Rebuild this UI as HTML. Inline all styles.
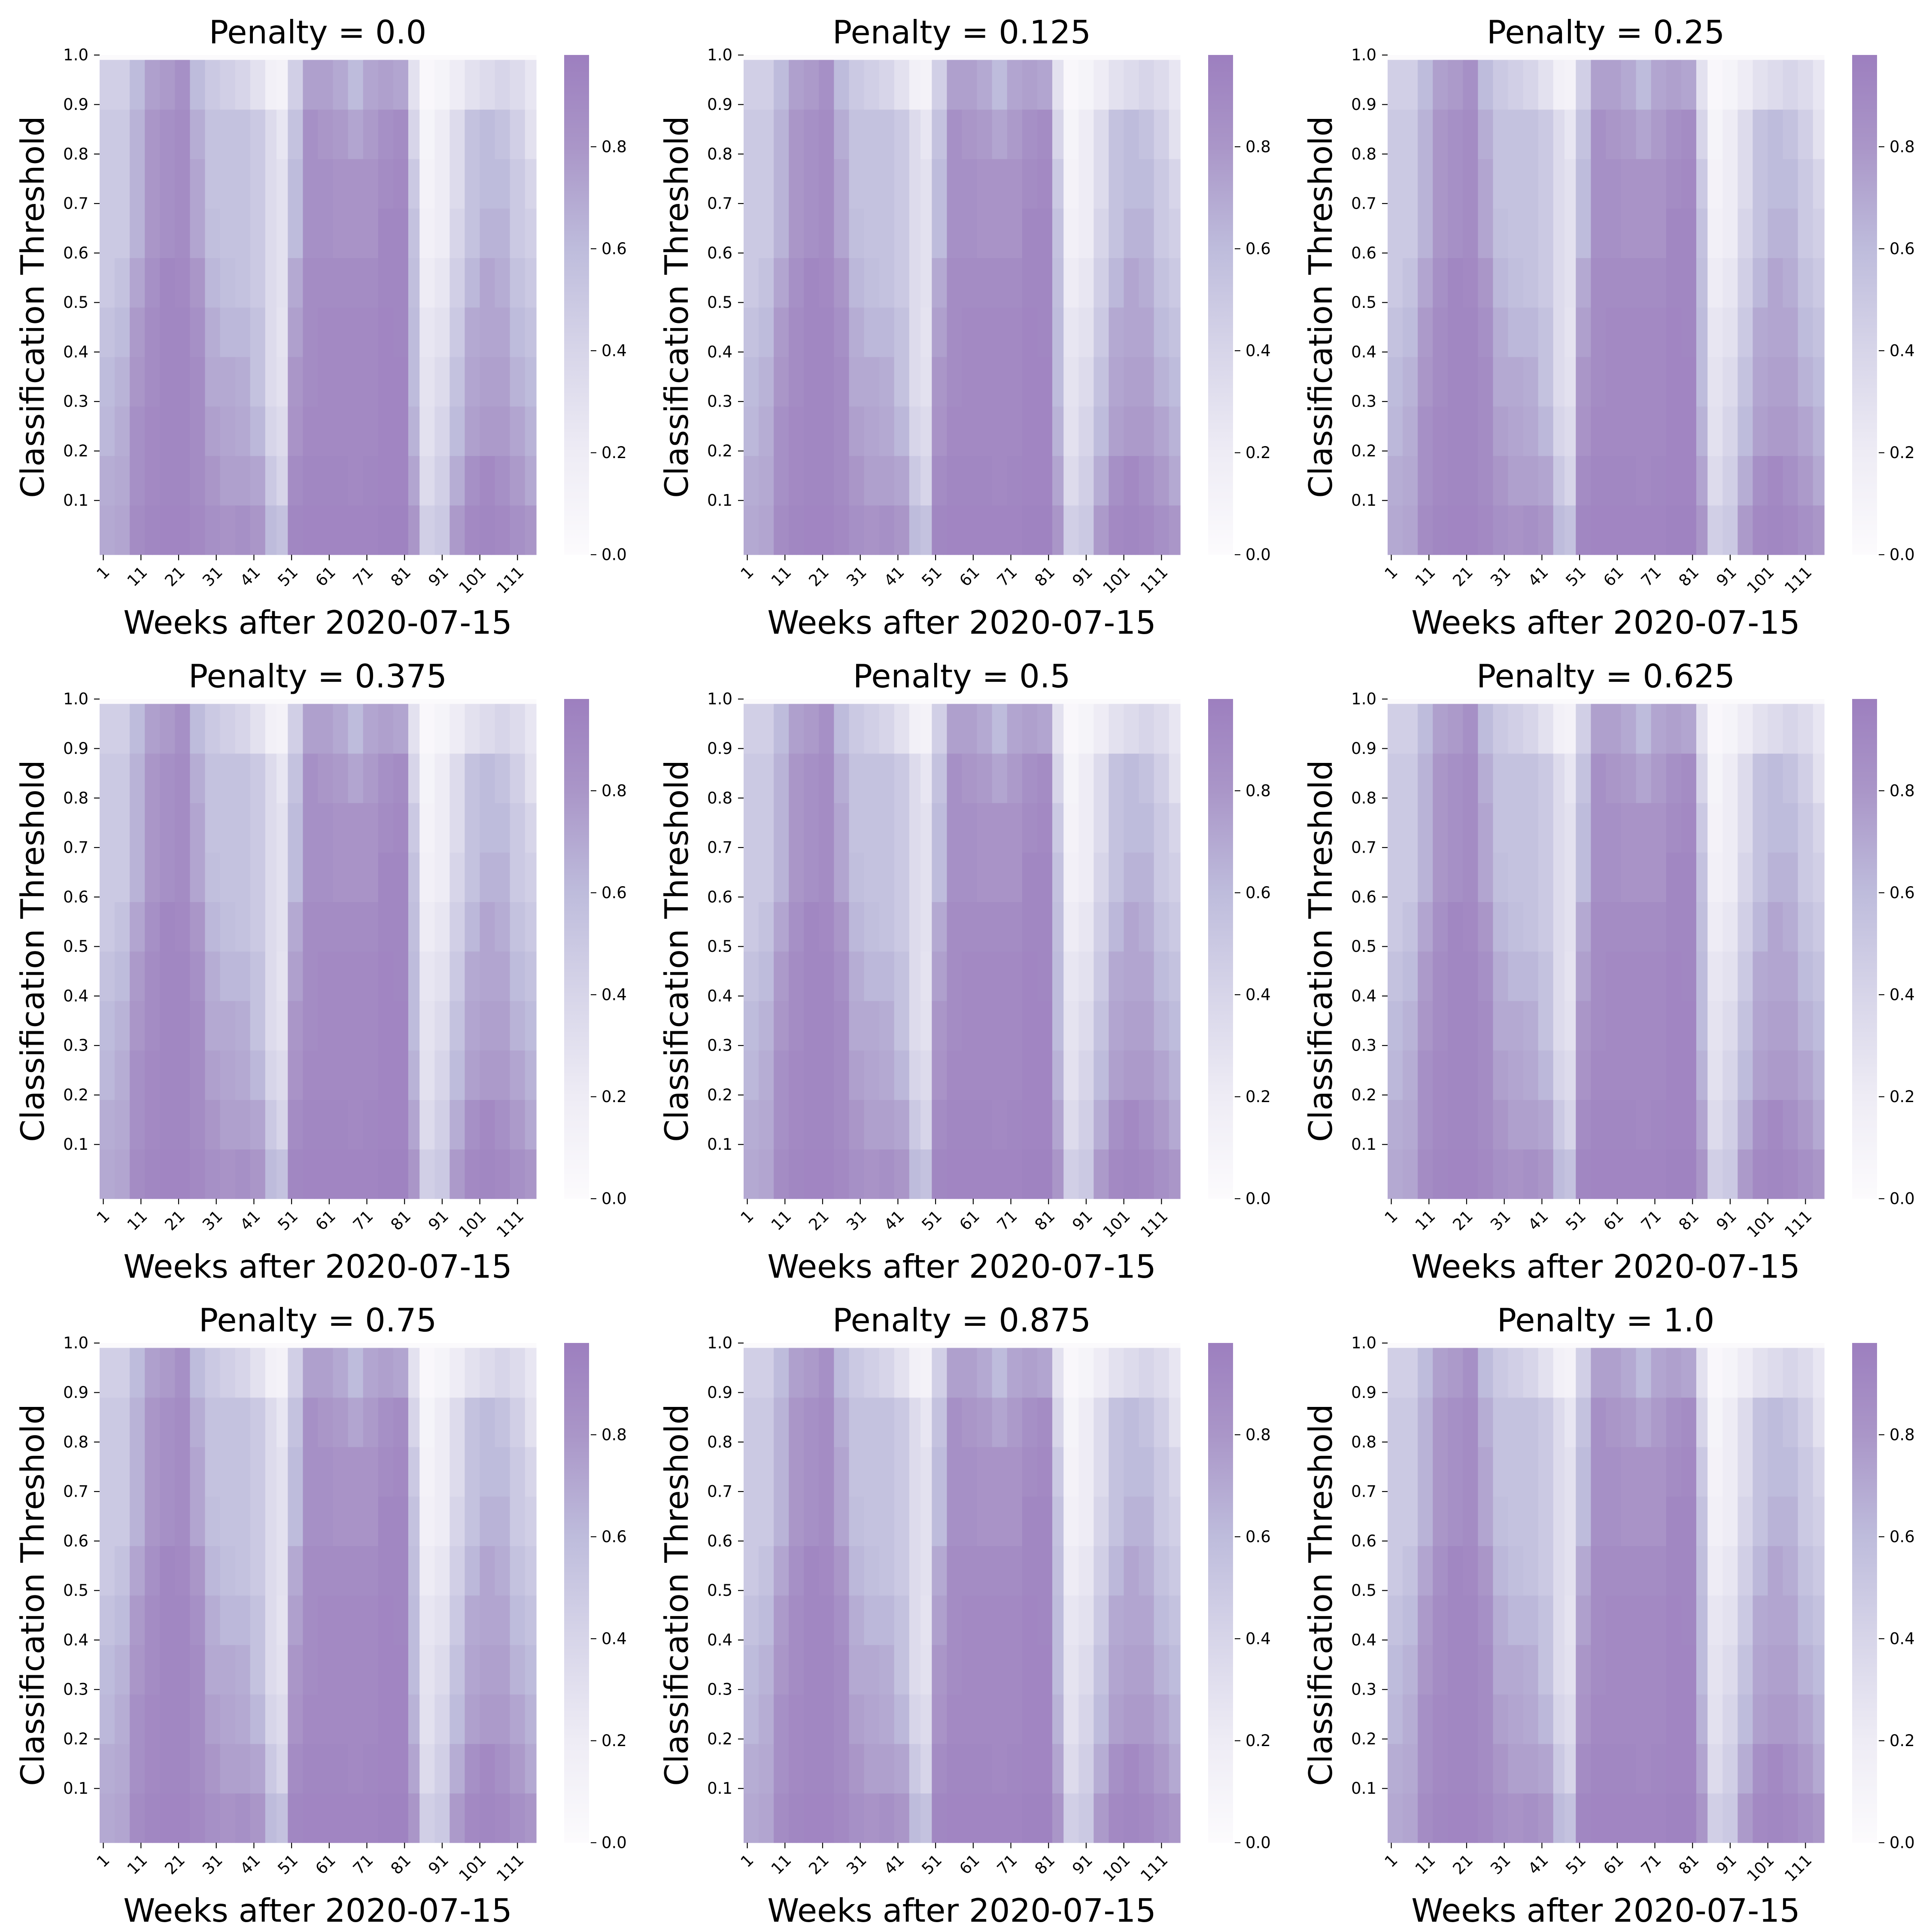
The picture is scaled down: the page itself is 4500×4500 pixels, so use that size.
<!DOCTYPE html>
<html><head><meta charset="utf-8"><style>
html,body{margin:0;padding:0;background:#fff;}
svg{display:block;font-family:"DejaVu Sans","Liberation Sans",sans-serif;}
</style></head><body>
<svg id="fig" width="4500" height="4500" viewBox="0 0 4500 4500">
<defs>
<linearGradient id="cbgrad" x1="0" y1="1" x2="0" y2="0">
<stop offset="0" stop-color="rgb(252,251,253)"/>
<stop offset="0.204" stop-color="rgb(238,236,245)"/>
<stop offset="0.408" stop-color="rgb(215,213,233)"/>
<stop offset="0.612" stop-color="rgb(190,188,220)"/>
<stop offset="0.816" stop-color="rgb(170,150,200)"/>
<stop offset="1" stop-color="rgb(157,127,191)"/>
</linearGradient>
</defs>
</svg>
<script>
// ---- data ----
const penalties = ["0.0","0.125","0.25","0.375","0.5","0.625","0.75","0.875","1.0"];
const weekCount = 116;
const xTickWeeks = [1,11,21,31,41,51,61,71,81,91,101,111];
const yTickLabels = ["0.1","0.2","0.3","0.4","0.5","0.6","0.7","0.8","0.9","1.0"];
const cbTickLabels = ["0.0","0.2","0.4","0.6","0.8"];
// week groups: first week of each group
const groupStart = [1,5,9,13,17,21,25,29,33,37,41,45,48,51,55,59,63,67,71,75,79,83,86,90,94,98,102,106,110,114];
// values per group for threshold bands [0-0.1),[0.1-0.2),...,[0.9-1.0)
const bandValues = [
[.7,.68,.62,.6,.55,.5,.5,.5,.5,.45],
[.72,.7,.68,.65,.6,.55,.5,.5,.5,.45],
[.88,.85,.85,.8,.78,.72,.65,.65,.65,.6],
[.92,.9,.9,.88,.88,.85,.8,.8,.8,.75],
[.93,.92,.92,.92,.92,.92,.85,.85,.85,.78],
[.93,.92,.92,.92,.92,.9,.88,.88,.88,.85],
[.9,.88,.88,.88,.85,.8,.72,.72,.68,.6],
[.85,.8,.75,.7,.68,.62,.58,.55,.55,.5],
[.82,.75,.72,.7,.62,.58,.55,.55,.55,.45],
[.85,.75,.7,.68,.62,.55,.55,.55,.55,.4],
[.8,.72,.62,.55,.55,.5,.5,.5,.5,.3],
[.6,.5,.4,.35,.35,.35,.35,.35,.35,.15],
[.55,.4,.35,.3,.28,.3,.3,.3,.25,.12],
[.92,.88,.82,.8,.75,.7,.6,.6,.55,.45],
[.93,.92,.9,.88,.88,.88,.85,.85,.85,.75],
[.93,.92,.9,.9,.9,.88,.85,.85,.8,.75],
[.93,.92,.9,.9,.9,.88,.82,.82,.78,.7],
[.93,.9,.9,.9,.9,.88,.82,.82,.72,.6],
[.93,.92,.9,.9,.9,.88,.82,.82,.78,.72],
[.95,.93,.93,.93,.93,.92,.92,.88,.85,.75],
[.95,.93,.93,.93,.92,.92,.92,.9,.88,.72],
[.8,.72,.65,.6,.6,.58,.55,.5,.4,.3],
[.45,.35,.3,.28,.25,.2,.15,.12,.1,.05],
[.5,.45,.4,.35,.3,.25,.2,.2,.2,.1],
[.78,.68,.6,.55,.5,.45,.4,.35,.35,.2],
[.9,.85,.75,.72,.7,.62,.55,.55,.55,.3],
[.92,.9,.78,.75,.72,.72,.65,.6,.6,.35],
[.9,.85,.78,.75,.72,.68,.65,.6,.55,.4],
[.85,.78,.72,.65,.6,.55,.5,.5,.45,.35],
[.8,.7,.65,.6,.55,.5,.45,.4,.3,.25]
];
const topRowValue = 0.02; // threshold = 1.0 row
const vmax = 0.98;

// ---- layout ----
const NS = "http://www.w3.org/2000/svg";
const svg = document.getElementById('fig');
const HX0 = 232, HX1 = 1249, HY0 = 128, HY1 = 1292;
const colW = (HX1 - HX0) / weekCount;
const rowH = (HY1 - HY0) / 101;
function xWeekTick(w){ return 240.6 + (w - 1) * 8.77; }
function yThresh(t){ return 1281 - t * 1152.8; }
function cbY(v){ return HY1 - (v / vmax) * (HY1 - HY0); }
const stops = [[0,[252,251,253]],[0.2,[238,236,245]],[0.4,[215,213,233]],[0.6,[190,188,220]],[0.8,[170,150,200]],[0.98,[157,127,191]]];
function color(v){
  v = Math.max(0, Math.min(vmax, v));
  for (let i = 0; i < stops.length - 1; i++){
    const a = stops[i], b = stops[i+1];
    if (v <= b[0]){
      const f = (v - a[0]) / (b[0] - a[0]);
      const c = a[1].map((x, k) => Math.round(x + (b[1][k] - x) * f));
      return `rgb(${c[0]},${c[1]},${c[2]})`;
    }
  }
  return 'rgb(157,127,191)';
}
function groupOf(w){ let g = 0; for (let i = 0; i < groupStart.length; i++) if (w >= groupStart[i]) g = i; return g; }
function mk(tag, attrs, parent){ const e = document.createElementNS(NS, tag); for (const k in attrs) e.setAttribute(k, attrs[k]); (parent || svg).appendChild(e); return e; }

penalties.forEach((p, pi) => {
  const ox = (pi % 3) * 1500, oy = Math.floor(pi / 3) * 1500;
  const g = mk('g', {transform: `translate(${ox},${oy})`});
  
  
  const hm = mk('g', {}, g);
  
  
  for (let w = 1; w <= weekCount; w++){
    const vals = bandValues[groupOf(w)];
    const x = HX0 + (w - 1) * colW;
    const r0 = mk('rect', {x: x, y: HY0, width: colW + 0.6, height: rowH + 0.6, fill: color(topRowValue)}, hm);
    
    
    for (let b = 0; b < 10; b++){
      const yTop = HY1 - (b * 10 + 10) * rowH;
      const r = mk('rect', {x: x, y: yTop, width: colW + 0.6, height: 10 * rowH + 0.6, fill: color(vals[b])}, hm);
      
      
    }
  }
  yTickLabels.forEach(lbl => {
    const y = yThresh(parseFloat(lbl));
    mk('line', {x1: 219, x2: 232, y1: y, y2: y, stroke: '#000', 'stroke-width': 2.2}, g);
    const t = mk('text', {x: 206, y: y, 'font-size': 37, 'text-anchor': 'end', 'dominant-baseline': 'central'}, g);
    t.textContent = lbl;
    
    
  });
  xTickWeeks.forEach(wk => {
    const x = xWeekTick(wk);
    mk('line', {x1: x, x2: x, y1: HY1, y2: HY1 + 13, stroke: '#000', 'stroke-width': 2.2}, g);
    const t = mk('text', {x: x + 8, y: HY1 + 34, 'font-size': 37, 'text-anchor': 'end', 'dominant-baseline': 'central', transform: `rotate(-45 ${x + 8} ${HY1 + 34})`}, g);
    t.textContent = String(wk);
    
    
  });
  const ti = mk('text', {x: 740, y: 101, 'font-size': 75, 'text-anchor': 'middle'}, g);
  ti.textContent = 'Penalty = ' + p;
  
  
  const xl = mk('text', {x: 740, y: 1476, 'font-size': 75, 'text-anchor': 'middle'}, g);
  xl.textContent = 'Weeks after 2020-07-15';
  
  
  const yl = mk('text', {x: 0, y: 0, 'font-size': 75, 'text-anchor': 'middle', transform: 'translate(102,715) rotate(-90)'}, g);
  yl.textContent = 'Classification Threshold';
  
  
  const cb = mk('rect', {x: 1314, y: HY0, width: 58, height: HY1 - HY0, fill: 'url(#cbgrad)'}, g);
  
  
  cbTickLabels.forEach(lbl => {
    const y = cbY(parseFloat(lbl));
    mk('line', {x1: 1376, x2: 1389, y1: y, y2: y, stroke: '#000', 'stroke-width': 2.2}, g);
    const t = mk('text', {x: 1401, y: y, 'font-size': 37, 'dominant-baseline': 'central'}, g);
    t.textContent = lbl;
    
    
  });
});
</script>
</body></html>
